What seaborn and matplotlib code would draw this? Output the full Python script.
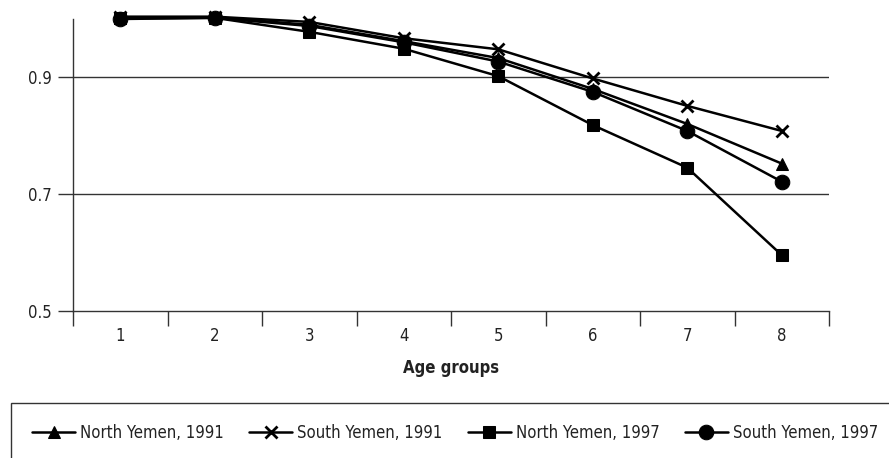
import matplotlib
matplotlib.use("Agg")
import matplotlib.pyplot as plt
from matplotlib.patches import Rectangle
import seaborn as sns
import pandas as pd

age_groups = [1, 2, 3, 4, 5, 6, 7, 8]
north_1991 = [1.002, 1.003, 0.990, 0.962, 0.933, 0.880, 0.820, 0.752]
south_1991 = [1.004, 1.004, 0.995, 0.967, 0.948, 0.898, 0.851, 0.808]
north_1997 = [1.001, 1.002, 0.978, 0.949, 0.902, 0.818, 0.745, 0.595]
south_1997 = [1.000, 1.002, 0.988, 0.960, 0.927, 0.875, 0.808, 0.721]

series_names = ["North Yemen, 1991", "South Yemen, 1991",
                "North Yemen, 1997", "South Yemen, 1997"]
series_values = [north_1991, south_1991, north_1997, south_1997]
y_ticks = [0.5, 0.7, 0.9]

rows = []
for name, vals in zip(series_names, series_values):
    for a, v in zip(age_groups, vals):
        rows.append([name, a, v])
df = pd.DataFrame(rows, columns=["series", "age", "value"])

sns.set_style("white")
plt.rcParams["font.family"] = ["DejaVu Sans"]
plt.rcParams["font.stretch"] = "condensed"
ink = "#222222"
fs = 12

fig = plt.figure(figsize=(8.89, 4.58), dpi=100)
ax = fig.add_axes([73 / 889, 1 - 310.5 / 458, 756 / 889, (310.5 - 19) / 458])

styles = {
    "North Yemen, 1991": dict(marker="^", markersize=9),
    "South Yemen, 1991": dict(marker="x", markersize=9, markeredgewidth=2),
    "North Yemen, 1997": dict(marker="s", markersize=8),
    "South Yemen, 1997": dict(marker="o", markersize=10.5),
}
for name in series_names:
    sub = df[df["series"] == name]
    sns.lineplot(data=sub, x="age", y="value", ax=ax, color="black",
                 linewidth=1.8, label=name, clip_on=False, zorder=3,
                 markeredgecolor="black", **styles[name])

ax.set_xlim(0.5, 8.5)
ax.set_ylim(0.5, 1.0)
ax.set_yticks(y_ticks)
ax.set_yticklabels([f"{t:.1f}" for t in y_ticks])
for t in y_ticks[1:]:
    ax.axhline(t, color="#333333", linewidth=1, zorder=1)

# category boundaries as major ticks, labels on minor ticks
ax.set_xticks([x - 0.5 for x in age_groups] + [8.5])
ax.set_xticklabels([])
ax.set_xticks(age_groups, minor=True)
ax.set_xticklabels([str(a) for a in age_groups], minor=True)
ax.tick_params(axis="x", which="major", bottom=True, direction="out", length=11,
               width=1, color="#333333")
ax.tick_params(axis="x", which="minor", bottom=True, length=0, pad=12,
               labelsize=fs, labelcolor=ink)
ax.tick_params(axis="y", left=True, direction="out", length=11, width=1, color="#333333",
               labelsize=fs, labelcolor=ink, pad=4)

for side in ["top", "right"]:
    ax.spines[side].set_visible(False)
for side in ["left", "bottom"]:
    ax.spines[side].set_color("#333333")
    ax.spines[side].set_linewidth(1)

ax.set_xlabel("Age groups", fontsize=fs, fontweight="bold", color=ink, labelpad=10)
ax.set_ylabel("")

handles, labels = ax.get_legend_handles_labels()
ax.get_legend().remove()

fig.patches.append(Rectangle((11 / 889, -0.2), 1.0, 0.2 + (458 - 403) / 458,
                             transform=fig.transFigure, fill=False,
                             edgecolor="#333333", linewidth=1))
fig.legend(handles, labels, loc="center left", bbox_to_anchor=(17 / 889, 1 - 433 / 458),
           ncol=4, frameon=False, fontsize=fs, handlelength=2.6,
           handletextpad=0.3, columnspacing=1.5, labelcolor=ink)

fig.savefig("out.png", dpi=100)
